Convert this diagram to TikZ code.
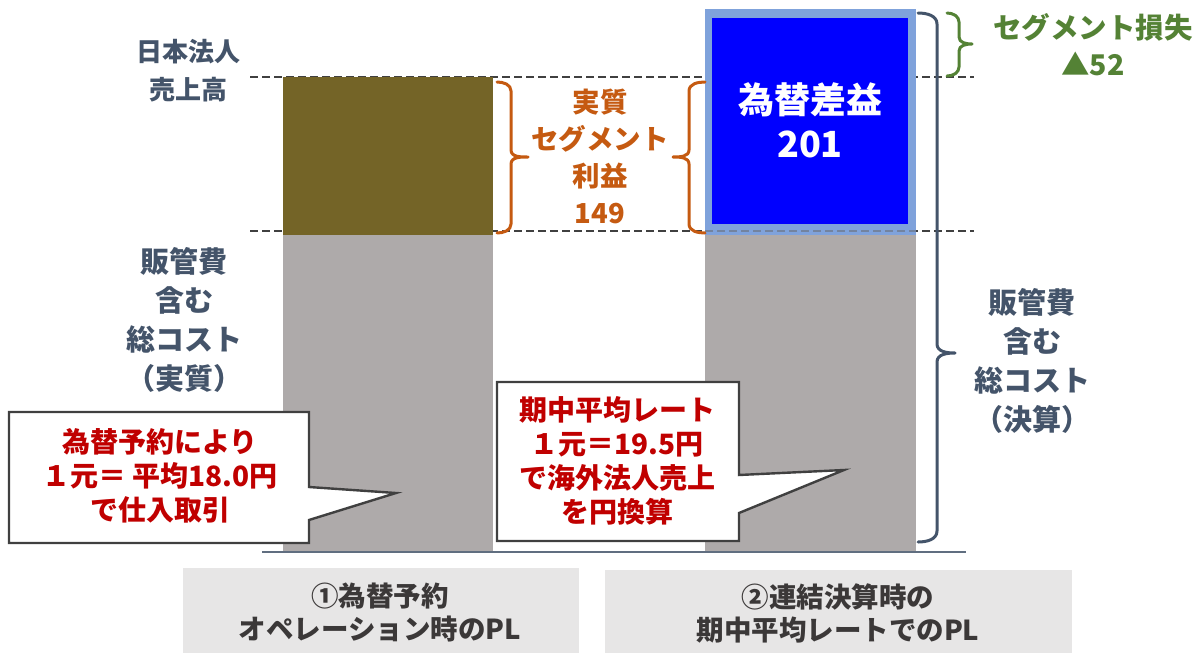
\documentclass[tikz,border=0pt]{standalone}
\usepackage{fontspec}
\setmainfont{Noto Sans CJK JP}
\definecolor{slate}{HTML}{44546A}
\definecolor{orng}{HTML}{C55A11}
\definecolor{grn}{HTML}{548235}
\definecolor{redt}{HTML}{C00000}
\definecolor{olivebar}{HTML}{746427}
\definecolor{graybar}{HTML}{AEAAAA}
\definecolor{capbox}{HTML}{E7E6E6}
\definecolor{captxt}{HTML}{3B3838}
\definecolor{lblue}{HTML}{7FA2DB}
\definecolor{dkline}{HTML}{404040}
\begin{document}
\begin{tikzpicture}[x=1pt,y=-1pt,
  bar/.style={inner sep=0pt, outer sep=0pt, draw=none},
  slatelbl/.style={text=slate, align=center, font=\bfseries\fontsize{29}{39}\selectfont},
  orlbl/.style={text=orng, align=center, font=\bfseries\fontsize{27.5}{37}\selectfont},
  grlbl/.style={text=grn, align=center, font=\bfseries\fontsize{28.5}{37}\selectfont},
  redlbl/.style={text=redt, align=center, font=\bfseries\fontsize{28}{34}\selectfont},
  caplbl/.style={text=captxt, align=center, font=\bfseries\fontsize{27.5}{33}\selectfont},
  bracestyle/.style={line width=3pt, line cap=round, line join=round},
  dashln/.style={dkline, line width=1.6pt, dash pattern=on 8pt off 4pt},
  callout/.style={draw=dkline, line width=2.4pt, fill=white, line join=miter}
]
\useasboundingbox (0,0) rectangle (1198,653);

% dashed level lines
\coordinate (d1a) at (250,77);
\coordinate (d1b) at (974,77);
\coordinate (d2a) at (250,231);
\coordinate (d2b) at (974,231);
\draw[dashln] (d1a) -- (d1b);
\draw[dashln] (d2a) -- (d2b);

% bars
\node[bar, fill=olivebar, minimum width=210pt, minimum height=158pt, anchor=north west] (olive) at (283,77) {};
\node[bar, fill=graybar, minimum width=210pt, minimum height=317pt, anchor=north west] (gray1) at (283,235) {};
\node[bar, fill=graybar, minimum width=211pt, minimum height=317pt, anchor=north west] (gray2) at (705,235) {};
\node[bar, fill=lblue, minimum width=211pt, minimum height=226pt, anchor=north west] (fxouter) at (705,9) {};
\node[bar, fill=blue, minimum width=196pt, minimum height=206pt, anchor=north west] (fxinner) at (712,18) {};
\draw[dkline!80, opacity=0.5, line width=1.6pt, dash pattern=on 8pt off 4pt] (705,231) -- (916,231);
\node[text=white, align=center, font=\bfseries\fontsize{36}{44}\selectfont] (fxtxt) at (810,120) {為替差益\\201};

% baseline
\coordinate (b1) at (262,552);
\coordinate (b2) at (966,552);
\draw[slate!85, line width=1.5pt] (b1) -- (b2);

% labels
\node[slatelbl, font=\bfseries\fontsize{26}{38}\selectfont] (sales) at (188,71) {日本法人\\売上高};
\node[slatelbl] (costL) at (184,320) {販管費\\含む\\総コスト\\（実質）};
\node[slatelbl] (costR) at (1032,361) {販管費\\含む\\総コスト\\（決算）};
\node[orlbl] (profit) at (600,156) {実質\\セグメント\\利益\\149};
\node[grlbl] (loss) at (1093,45) {セグメント損失\\▲52};

% braces
\draw[bracestyle, orng] (497,82) to[out=0,in=90] (511,91) -- (511,150) to[out=-90,in=180] (528,157)
  to[out=180,in=90] (511,164) -- (511,224) to[out=-90,in=0] (497,233);
\draw[bracestyle, orng] (705,82) to[out=180,in=90] (689,91) -- (689,150) to[out=-90,in=0] (673,157)
  to[out=0,in=90] (689,164) -- (689,224) to[out=-90,in=180] (705,233);
\draw[bracestyle, slate] (918,13) to[out=0,in=90] (937,24) -- (937,344) to[out=-90,in=180] (955,353)
  to[out=180,in=90] (937,362) -- (937,531) to[out=-90,in=0] (918,542);
\draw[bracestyle, grn] (947,13) to[out=0,in=90] (959,22) -- (959,37) to[out=-90,in=180] (972,44)
  to[out=180,in=90] (959,51) -- (959,67) to[out=-90,in=0] (947,76);

% callouts
\draw[callout] (309,412) -- (309,487) -- (396,493) -- (309,520) -- (309,543) -- (9,543) -- (9,412) -- cycle;
\node[redlbl] (call1) at (160,476) {為替予約により\\１元＝ 平均18.0円\\で仕入取引};
\draw[callout] (739,382) -- (739,475) -- (844,470) -- (739,513) -- (739,541) -- (497,541) -- (497,382) -- cycle;
\node[redlbl] (call2) at (617,461) {期中平均レート\\１元＝19.5円\\で海外法人売上\\を円換算};

% captions
\node[bar, fill=capbox, minimum width=396pt, minimum height=85pt, anchor=north west] (cap1box) at (183,568) {};
\node[caplbl] (cap1) at (380,612) {①為替予約\\オペレーション時のPL};
\node[bar, fill=capbox, minimum width=467pt, minimum height=83pt, anchor=north west] (cap2box) at (605,570) {};
\node[caplbl] (cap2) at (838,613) {②連結決算時の\\期中平均レートでのPL};
\end{tikzpicture}
\end{document}
